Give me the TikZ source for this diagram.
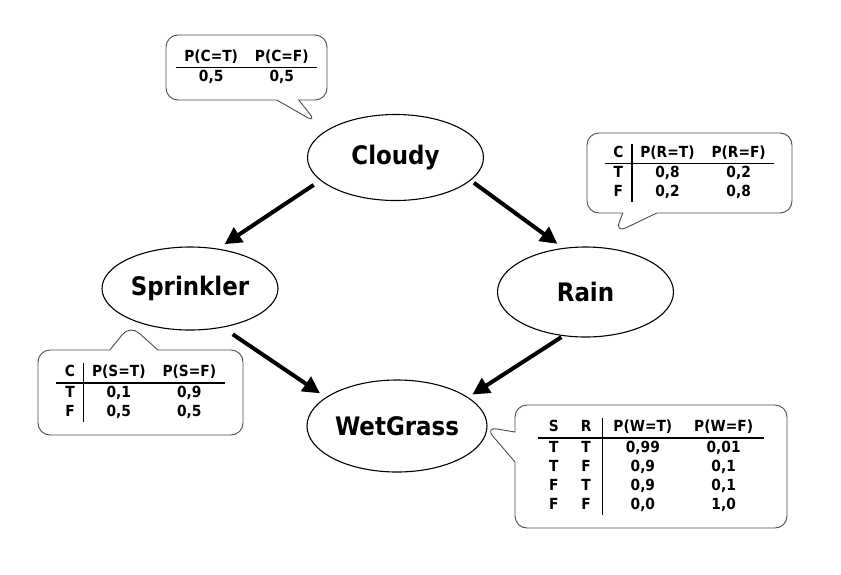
\documentclass[tikz,border=0pt]{standalone}
\usepackage{fontspec}
\setmainfont{DejaVu Sans Condensed}
\usetikzlibrary{shapes.geometric, shapes.callouts, arrows.meta}

\tikzset{
    var/.style={ellipse, draw, line width=1.1pt, inner sep=0pt,
        minimum width=176pt, minimum height=86pt,
        font=\fontsize{25.5}{30}\selectfont\bfseries},
    cpt/.style={rectangle callout, draw=black!70, line width=0.9pt, fill=white,
        rounded corners=12pt, inner sep=0pt,
        font=\fontsize{15.3}{17.6}\selectfont\bfseries},
    edge/.style={line width=4pt, -{Triangle[length=17pt,width=17pt]}}
}
\setlength{\arrayrulewidth}{1.4pt}
\setlength{\tabcolsep}{8.5pt}
\renewcommand{\arraystretch}{1.08}

\begin{document}
\begin{tikzpicture}[x=1pt, y=-1pt]
    \useasboundingbox (0,0) rectangle (841,574);

    % Variables
    \node[var] (cloudy) at (395.5,157.5) {Cloudy};
    \node[var, minimum height=83pt] (sprinkler) at (190,288.5) {Sprinkler};
    \node[var, minimum height=90pt] (rain) at (585.5,292) {Rain};
    \node[var, minimum width=180pt, minimum height=92pt] (wetgrass) at (397,426) {WetGrass};

    % Dependencies
    \draw[edge, shorten <=8pt, shorten >=8pt] (cloudy.197) -- (sprinkler.55.5);
    \draw[edge, shorten <=4pt, shorten >=7pt] (cloudy.-17.8) -- (rain.117);
    \draw[edge, shorten <=12pt, shorten >=7pt] (sprinkler.-50.5) -- (wetgrass.158);
    \draw[edge, shorten <=2pt, shorten >=5pt] (rain.-117.6) -- (wetgrass.22.5);

    % Conditional probability tables
    \node[cpt, minimum width=161pt, minimum height=65pt,
        callout absolute pointer={(317,123)}, callout pointer width=22pt]
        (cptc) at (246.5,67.5) {%
        \begin{tabular}{cc}
            P(C=T) & P(C=F)\\\hline
            0,5 & 0,5
        \end{tabular}};
    \node[cpt, minimum width=205pt, minimum height=80pt,
        callout absolute pointer={(615,233)}, callout pointer width=34pt]
        (cptr) at (689.5,173) {%
        \begin{tabular}{c|cc}
            C & P(R=T) & P(R=F)\\\hline
            T & 0,8 & 0,2\\
            F & 0,2 & 0,8
        \end{tabular}};
    \node[cpt, minimum width=205pt, minimum height=85pt,
        callout absolute pointer={(130,325)}, callout pointer width=48pt]
        (cpts) at (140.5,392.5) {%
        \begin{tabular}{c|cc}
            C & P(S=T) & P(S=F)\\\hline
            T & 0,1 & 0,9\\
            F & 0,5 & 0,5
        \end{tabular}};
    \node[cpt, minimum width=272pt, minimum height=123pt,
        callout absolute pointer={(485,427)}, callout pointer width=30pt]
        (cptw) at (651,466.5) {%
        \setlength{\tabcolsep}{11pt}%
        \begin{tabular}{cc|cc}
            S & R & P(W=T) & P(W=F)\\\hline
            T & T & 0,99 & 0,01\\
            T & F & 0,9 & 0,1\\
            F & T & 0,9 & 0,1\\
            F & F & 0,0 & 1,0
        \end{tabular}};
\end{tikzpicture}
\end{document}
